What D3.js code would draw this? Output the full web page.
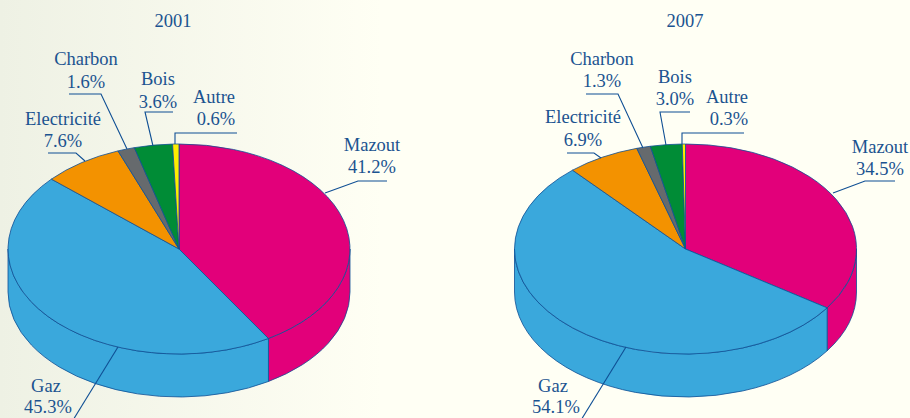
<!DOCTYPE html>
<html lang="en">
<head>
    <meta charset="UTF-8">
    <title>Document</title>
    <script src="https://cdn.jsdelivr.net/npm/d3@7"></script>
    <style>
        html, body {
            margin: 0;
            padding: 0;
            overflow: hidden;
        }
        svg {
            display: block;
        }
        text {
            font-family: "Liberation Serif", serif;
            font-size: 18.5px;
            fill: #1b5390;
            text-anchor: middle;
        }
        .leader {
            fill: none;
            stroke: #0f4f94;
            stroke-width: 1.1;
        }
    </style>
</head>
<body>
    <svg width="910" height="418"></svg>

    <script>
        const categories = ["Mazout", "Gaz", "Electricité", "Charbon", "Bois", "Autre"];
        const years = ["2001", "2007"];
        const values2001 = [41.2, 45.3, 7.6, 1.6, 3.6, 0.6];
        const values2007 = [34.5, 54.1, 6.9, 1.3, 3.0, 0.3];
        const colors = ["#e2007a", "#3aa8dc", "#f39200", "#666a6d", "#008c36", "#ffed00"];

        // label layout, same order as categories: [name x, name y, value x, value y]
        const labels2001 = [
            [372, 151, 372, 173],
            [46, 392, 48, 413],
            [63, 125, 63, 147],
            [86, 65, 86, 88],
            [158, 85, 158, 108],
            [214, 103, 216, 125]
        ];
        const labels2007 = [
            [880, 153, 880, 175],
            [553, 392, 556, 413],
            [583, 123, 583, 146],
            [602, 65, 602, 87],
            [675, 83, 675, 105],
            [727, 103, 729, 125]
        ];
        const leaders2001 = [
            [[387, 181], [358, 181], [325, 193]],
            [[118, 347], [70, 425]],
            [[48, 153], [76, 153], [85, 161]],
            [[69, 94], [101, 94], [127, 149]],
            [[173, 112], [145, 112], [153, 146]],
            [[237, 133], [175, 133], [175, 144]]
        ];
        const leaders2007 = [
            [[895, 181], [865, 181], [833, 193]],
            [[626, 347], [578, 425]],
            [[567, 153], [594, 153], [601, 158]],
            [[586, 94], [618, 94], [643, 148]],
            [[690, 112], [660, 112], [666, 145]],
            [[744, 133], [682, 133], [682, 144]]
        ];

        const rx = 171, ry = 105, depth = 43, cy = 249;
        const squash = ry / rx;

        const svg = d3.select("svg");

        const grad = svg.append("defs").append("linearGradient")
            .attr("id", "bg");
        grad.append("stop").attr("offset", 0).attr("stop-color", "#eef1e4");
        grad.append("stop").attr("offset", 0.42).attr("stop-color", "#fffff4");
        svg.append("rect")
            .attr("width", 910)
            .attr("height", 418)
            .attr("fill", "url(#bg)");

        const pie = d3.pie().sort(null).value(d => d)
            .startAngle(0).endAngle(2 * Math.PI);
        const arc = d3.arc().innerRadius(0).outerRadius(rx);

        // side wall of a slice, only the part between 90 and 270 degrees shows
        function wall(d) {
            const a0 = Math.max(d.startAngle, Math.PI / 2) - Math.PI / 2;
            const a1 = Math.min(d.endAngle, 3 * Math.PI / 2) - Math.PI / 2;
            if (a1 <= a0) return null;
            const h = depth / squash;
            const p = d3.path();
            p.arc(0, 0, rx, a0, a1);
            p.lineTo(rx * Math.cos(a1), rx * Math.sin(a1) + h);
            p.arc(0, h, rx, a1, a0, true);
            p.closePath();
            return p.toString();
        }

        function drawPie(year, values, cx, titleX, labels, leaders) {
            const slices = pie(values);
            const g = svg.append("g")
                .attr("transform", `translate(${cx},${cy}) scale(1,${squash})`);

            g.selectAll(".wall")
                .data(slices.filter(d => wall(d)))
                .enter().append("path")
                .attr("class", "wall")
                .attr("d", wall)
                .attr("fill", d => colors[d.index])
                .attr("stroke", "#0f4f94")
                .attr("stroke-width", 0.8)
                .attr("vector-effect", "non-scaling-stroke");

            g.selectAll(".slice")
                .data(slices)
                .enter().append("path")
                .attr("class", "slice")
                .attr("d", arc)
                .attr("fill", d => colors[d.index])
                .attr("stroke", "#0f4f94")
                .attr("stroke-width", 0.8)
                .attr("vector-effect", "non-scaling-stroke");

            const line = d3.line();
            svg.selectAll(".leader" + year)
                .data(leaders)
                .enter().append("path")
                .attr("class", "leader leader" + year)
                .attr("d", line);

            svg.append("text")
                .attr("x", titleX)
                .attr("y", 27)
                .text(year);

            categories.forEach((name, i) => {
                const l = labels[i];
                svg.append("text").attr("x", l[0]).attr("y", l[1]).text(name);
                svg.append("text").attr("x", l[2]).attr("y", l[3])
                    .text(values[i].toFixed(1) + "%");
            });
        }

        drawPie(years[0], values2001, 179, 173, labels2001, leaders2001);
        drawPie(years[1], values2007, 685.5, 685, labels2007, leaders2007);
    </script>
</body>
</html>
